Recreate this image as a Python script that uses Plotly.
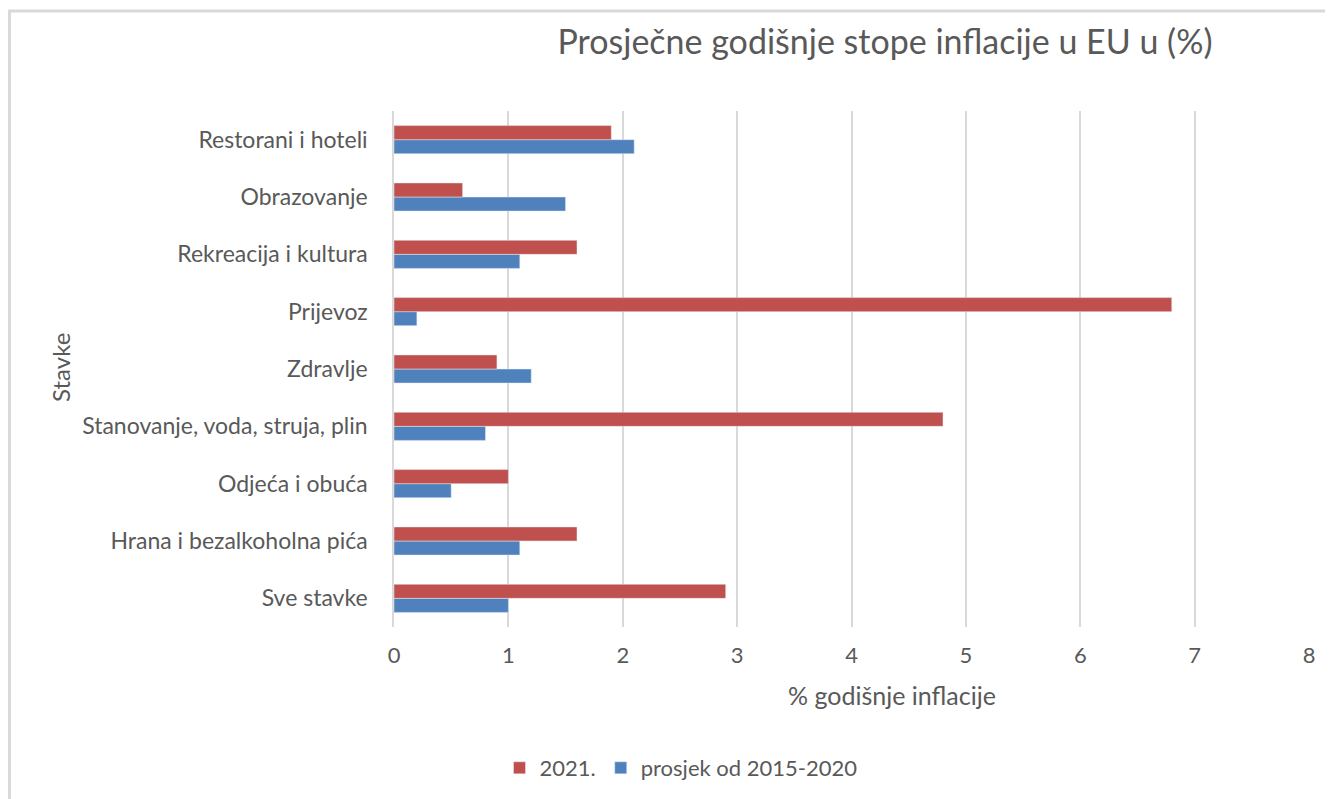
import plotly.graph_objects as go

# categories listed bottom -> top (plotly draws first category at the bottom)
categories = [
    "Sve stavke",
    "Hrana i bezalkoholna pića",
    "Odjeća i obuća",
    "Stanovanje, voda, struja, plin",
    "Zdravlje",
    "Prijevoz",
    "Rekreacija i kultura",
    "Obrazovanje",
    "Restorani i hoteli",
]
values_2021 = [2.9, 1.6, 1.0, 4.8, 0.9, 6.8, 1.6, 0.6, 1.9]
values_avg = [1.0, 1.1, 0.5, 0.8, 1.2, 0.2, 1.1, 1.5, 2.1]
x_ticks = [0, 1, 2, 3, 4, 5, 6, 7, 8]

text_color = "#595959"
grid_color = "#d9d9d9"
font_family = "Lato, Open Sans, sans-serif"

# the page body has an 8px margin, so the figure is a bit smaller than the window
W, H = 1325, 791
L, R, T, B = 386, 24, 103, 172

fig = go.Figure()
# blue first so it sits below the red bar inside each group
fig.add_trace(go.Bar(
    name="prosjek od 2015-2020",
    x=values_avg,
    y=categories,
    orientation="h",
    marker_color="#4F81BD",
))
fig.add_trace(go.Bar(
    name="2021.",
    x=values_2021,
    y=categories,
    orientation="h",
    marker_color="#C0504D",
))


def px_x(p):
    return (p - L) / (W - L - R)


def px_y(p):
    return (H - B - p) / (H - T - B)


fig.update_layout(
    width=W,
    height=H,
    margin=dict(l=L, r=R, t=T, b=B, autoexpand=False),
    barmode="group",
    bargap=0.51,
    bargroupgap=0,
    paper_bgcolor="white",
    plot_bgcolor="white",
    font=dict(family=font_family, color=text_color, size=22),
    title=dict(
        text="Prosječne godišnje stope inflacije u EU u (%)",
        x=877 / W,
        xanchor="center",
        xref="container",
        y=1 - 34 / H,
        yanchor="middle",
        yref="container",
        font=dict(size=34, color=text_color, family=font_family),
    ),
    xaxis=dict(
        range=[0, 8],
        tickvals=x_ticks,
        showgrid=True,
        gridcolor=grid_color,
        gridwidth=1.5,
        zeroline=False,
        showline=False,
        ticks="",
        ticklabelstandoff=13,
        tickfont=dict(size=22),
        fixedrange=True,
    ),
    yaxis=dict(
        showgrid=False,
        showline=True,
        linecolor=grid_color,
        linewidth=1.5,
        zeroline=False,
        ticks="",
        ticklabelstandoff=20,
        tickfont=dict(size=23),
        fixedrange=True,
    ),
    showlegend=True,
    legend=dict(
        orientation="h",
        traceorder="reversed",
        x=px_x(673),
        xanchor="center",
        y=px_y(760),
        yanchor="middle",
        font=dict(size=22),
        itemwidth=30,
    ),
    annotations=[
        dict(
            text="Stavke",
            textangle=-90,
            xref="paper",
            yref="paper",
            x=px_x(52),
            y=px_y(360),
            xanchor="center",
            yanchor="middle",
            showarrow=False,
            font=dict(size=24, color=text_color),
        ),
        dict(
            text="% godišnje inflacije",
            xref="paper",
            yref="paper",
            x=px_x(884),
            y=px_y(687),
            xanchor="center",
            yanchor="middle",
            showarrow=False,
            font=dict(size=25, color=text_color),
        ),
    ],
    shapes=[
        dict(type="line", xref="paper", yref="paper",
             x0=px_x(0), x1=px_x(W + 5), y0=px_y(3), y1=px_y(3),
             line=dict(color=grid_color, width=3)),
        dict(type="line", xref="paper", yref="paper",
             x0=px_x(1.5), x1=px_x(1.5), y0=px_y(3), y1=px_y(H + 5),
             line=dict(color=grid_color, width=3)),
    ],
)

fig.write_html("out.html")
